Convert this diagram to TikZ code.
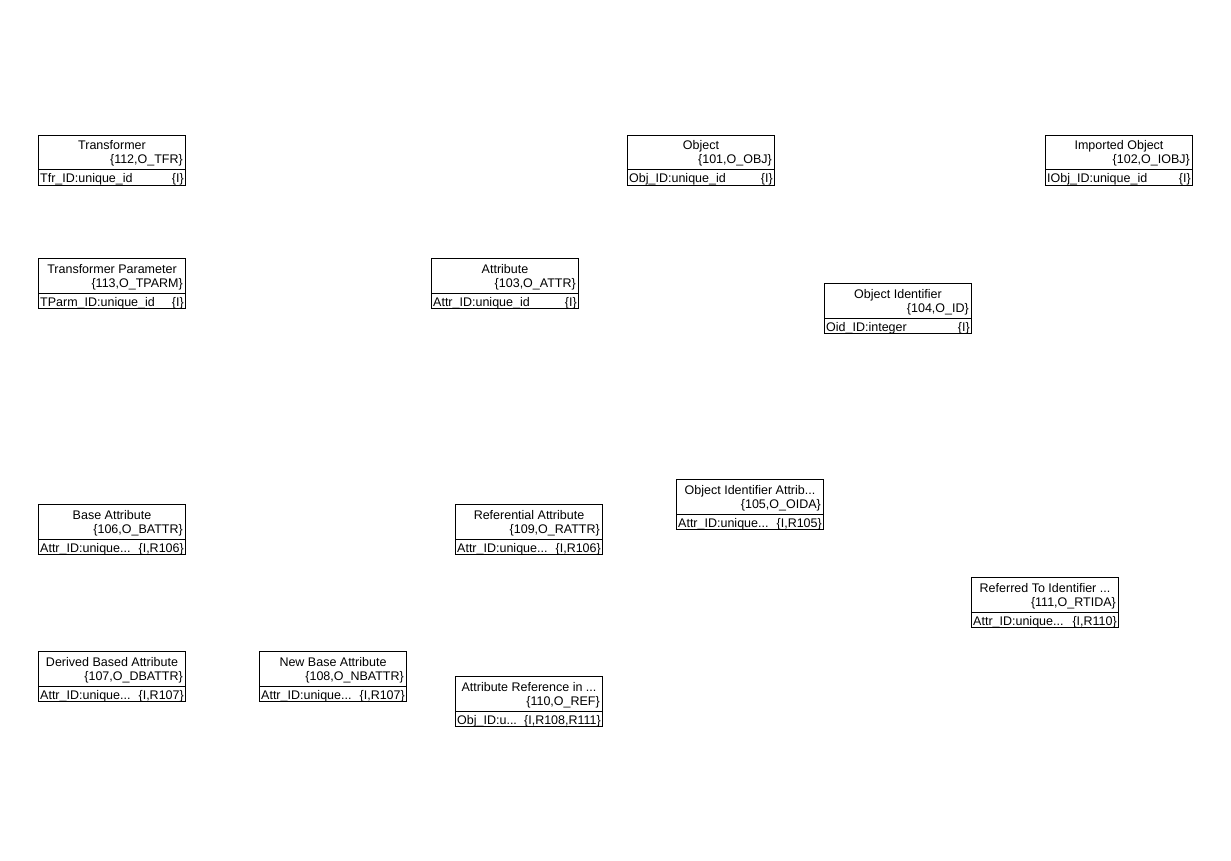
\documentclass[tikz,border=0pt]{standalone}
\usepackage{fontspec}
\setmainfont{Liberation Sans}
\usetikzlibrary{positioning}
\tikzset{objbox/.style={draw,rectangle,minimum width=147pt,minimum height=50pt,anchor=north west,inner sep=0pt,line width=1pt}}
\tikzset{boxtext/.style={inner sep=0pt,font=\fontsize{12.5}{14}\selectfont}}
% class box: name, x, y, title, key, attribute, identifier tag
\newcommand{\umlclass}[7]{%
  \node[objbox] (#1) at (#2,#3) {};
  \draw[line width=1pt] ([yshift=-35pt]#1.north west) -- ([yshift=-35pt]#1.north east);
  \node[boxtext,anchor=base] (#1-name) at ([yshift=-15pt]#1.north) {#4};
  \node[boxtext,anchor=base east] (#1-key) at ([shift={(-3pt,-29pt)}]#1.north east) {#5};
  \node[boxtext,anchor=base west] (#1-attr) at ([shift={(2pt,3pt)}]#1.south west) {#6};
  \node[boxtext,anchor=base east] (#1-tag) at ([shift={(-2pt,3pt)}]#1.south east) {#7};
}

\begin{document}
\begin{tikzpicture}[x=1pt,y=-1pt]
    \useasboundingbox (0,0) rectangle (1231,861);
    \umlclass{tfr}{38}{135}{Transformer}{\{112,O\_TFR\}}{Tfr\_ID:unique\_id}{\{I\}}
    \umlclass{obj}{627}{135}{Object}{\{101,O\_OBJ\}}{Obj\_ID:unique\_id}{\{I\}}
    \umlclass{iobj}{1045}{135}{Imported Object}{\{102,O\_IOBJ\}}{IObj\_ID:unique\_id}{\{I\}}
    \umlclass{tparm}{38}{258}{Transformer Parameter}{\{113,O\_TPARM\}}{TParm\_ID:unique\_id}{\{I\}}
    \umlclass{attr}{431}{258}{Attribute}{\{103,O\_ATTR\}}{Attr\_ID:unique\_id}{\{I\}}
    \umlclass{oid}{824}{283}{Object Identifier}{\{104,O\_ID\}}{Oid\_ID:integer}{\{I\}}
    \umlclass{oida}{676}{479}{Object Identifier Attrib...}{\{105,O\_OIDA\}}{Attr\_ID:unique...}{\{I,R105\}}
    \umlclass{battr}{38}{504}{Base Attribute}{\{106,O\_BATTR\}}{Attr\_ID:unique...}{\{I,R106\}}
    \umlclass{rattr}{455}{504}{Referential Attribute}{\{109,O\_RATTR\}}{Attr\_ID:unique...}{\{I,R106\}}
    \umlclass{rtida}{971}{577}{Referred To Identifier ...}{\{111,O\_RTIDA\}}{Attr\_ID:unique...}{\{I,R110\}}
    \umlclass{dbattr}{38}{651}{Derived Based Attribute}{\{107,O\_DBATTR\}}{Attr\_ID:unique...}{\{I,R107\}}
    \umlclass{nbattr}{259}{651}{New Base Attribute}{\{108,O\_NBATTR\}}{Attr\_ID:unique...}{\{I,R107\}}
    \umlclass{ref}{455}{676}{Attribute Reference in ...}{\{110,O\_REF\}}{Obj\_ID:u...}{\{I,R108,R111\}}
\end{tikzpicture}
\end{document}
